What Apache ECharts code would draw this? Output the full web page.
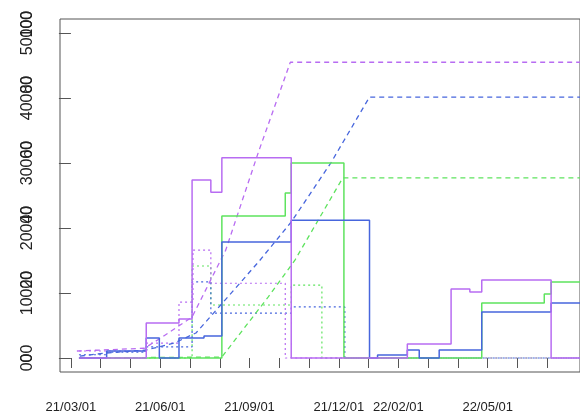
<!DOCTYPE html>
<html><head><meta charset="utf-8">
<script src="https://cdn.jsdelivr.net/npm/echarts@6/dist/echarts.min.js"></script>
<style>html,body{margin:0;padding:0;background:#fff}#c{width:580px;height:414px;filter:blur(0.4px)}</style>
</head><body><div id="c"></div>
<script>
// x values are months counted from 21/03/01
const xTickMonths = [0,1,2,3,4,5,6,7,8,9,10,11,12,13,14,15,16];
const xLabelMonths = [0,3,6,9,11,14];
const xLabels = ['21/03/01','21/06/01','21/09/01','21/12/01','22/02/01','22/05/01'];

const yTickValues = [0,10000,20000,30000,40000,50000];
const yTickLabels = ['0','10000','20000','30000','40000','50000'];
const yOverlayLabels = ['000','20','40','60','80','100'];

// solid step lines: [month, value]
const purpleSolid = [[0.27,0],[2.53,5400],[3.63,6000],[4.07,27400],[4.7,25500],[5.07,30800],[7.4,0],[11.3,2150],[12.77,10600],[13.4,10150],[13.8,12000],[16.13,0],[17.1,0]];
const greenSolid = [[0.27,0],[5.07,21850],[7.2,25400],[7.4,30000],[9.17,0],[13.8,8450],[15.9,9850],[16.13,11700],[17.1,11700]];
const blueSolid = [[0.27,0],[1.2,1080],[2.53,3080],[2.97,0],[3.63,3080],[4.47,3400],[5.07,17850],[7.4,21200],[10.03,0],[10.3,460],[11.3,1230],[11.7,0],[12.37,1230],[13.8,7080],[16.13,8460],[17.1,8460]];

// dashed cumulative lines
const purpleDashed = [[0.2,1080],[2.47,1500],[3.07,3230],[4.07,6300],[5.2,16600],[6.3,31700],[7.37,45500],[17.1,45500]];
const blueDashed = [[0.3,300],[1.2,770],[2.53,1230],[3.47,2300],[4.2,3850],[5.03,8150],[6.3,14770],[7.4,20920],[8.73,30000],[10.03,40150],[17.1,40150]];
const greenDashed = [[0.27,0],[5.07,150],[6.63,9400],[7.53,15100],[9.13,27700],[17.1,27700]];

// dotted step lines
const purpleDotted = [[0.27,1080],[2.53,2300],[3.63,8600],[4.1,16600],[4.7,11500],[7.2,0],[17.1,0]];
const greenDotted = [[0.27,0],[4.07,14150],[4.7,8150],[7.4,11200],[8.43,0],[17.1,0]];
const blueDotted = [[0.27,500],[1.2,900],[2.53,1700],[4.07,11700],[4.7,6900],[7.4,7850],[9.2,0],[17.1,0]];

const PURPLE = '#b86cf2', GREEN = '#5ee35e', BLUE = '#4766dd';

function line(data, color, type, step, w) {
  return {
    type: 'line', data: data, step: step ? 'end' : false, showSymbol: false, symbol: 'none',
    lineStyle: { color: color, width: w, type: type }, itemStyle: { color: color },
    animation: false, silent: true
  };
}

const FONT = 'Liberation Sans, Arial, sans-serif';
const chart = echarts.init(document.getElementById('c'), null, { renderer: 'canvas' });
const richStyles = {
  v: { color: '#222', fontSize: 16, fontFamily: FONT },
  h: { color: 'rgba(0,0,0,0)', fontSize: 16, fontFamily: FONT }
};
const yLabelStyle = { rotate: 90, margin: 24, fontSize: 16, color: '#222', fontFamily: FONT, rich: richStyles };
chart.setOption({
  animation: false,
  grid: { left: 60, right: -4, top: 19, bottom: 42, show: true, borderColor: '#555', borderWidth: 1, backgroundColor: 'transparent' },
  xAxis: {
    type: 'value', min: -0.3667, max: 17.1,
    axisLine: { show: false }, splitLine: { show: false },
    axisTick: { show: true, customValues: xTickMonths, length: 10, lineStyle: { color: '#555' } },
    axisLabel: {
      customValues: xLabelMonths, margin: 29, fontSize: 13, color: '#222', fontFamily: FONT,
      formatter: function (v) { const i = xLabelMonths.indexOf(Math.round(v)); return i >= 0 ? xLabels[i] : ''; }
    }
  },
  yAxis: [{
    type: 'value', min: -2154, max: 52154, position: 'left',
    axisLine: { show: false }, splitLine: { show: false },
    axisTick: { show: true, customValues: yTickValues, length: 12, lineStyle: { color: '#555' } },
    axisLabel: Object.assign({}, yLabelStyle, {
      customValues: yTickValues,
      formatter: function (v) { const i = yTickValues.indexOf(Math.round(v)); return i >= 0 ? '{v|' + yTickLabels[i] + '}' : ''; }
    })
  }, {
    type: 'value', min: -2154, max: 52154, position: 'left', offset: 0,
    axisLine: { show: false }, splitLine: { show: false }, axisTick: { show: false },
    axisLabel: Object.assign({}, yLabelStyle, {
      customValues: yTickValues,
      formatter: function (v) {
        const i = yTickValues.indexOf(Math.round(v));
        if (i < 0) return '';
        const p = yTickLabels[i], o = yOverlayLabels[i];
        const n = p.length - o.length;
        return n > 0 ? '{h|' + p.slice(0, n) + '}{v|' + o + '}' : '{v|' + o + '}';
      }
    })
  }],
  series: [
    line(greenDotted, GREEN, [2, 3], true, 1.2),
    line(blueDotted, BLUE, [2, 3], true, 1.2),
    line(purpleDotted, PURPLE, [2, 3], true, 1.2),
    line(greenDashed, GREEN, [5, 4], false, 1.3),
    line(blueDashed, BLUE, [5, 4], false, 1.3),
    line(purpleDashed, PURPLE, [5, 4], false, 1.3),
    line(greenSolid, GREEN, 'solid', true, 1.5),
    line(blueSolid, BLUE, 'solid', true, 1.5),
    line(purpleSolid, PURPLE, 'solid', true, 1.5)
  ]
});
</script>
</body></html>
